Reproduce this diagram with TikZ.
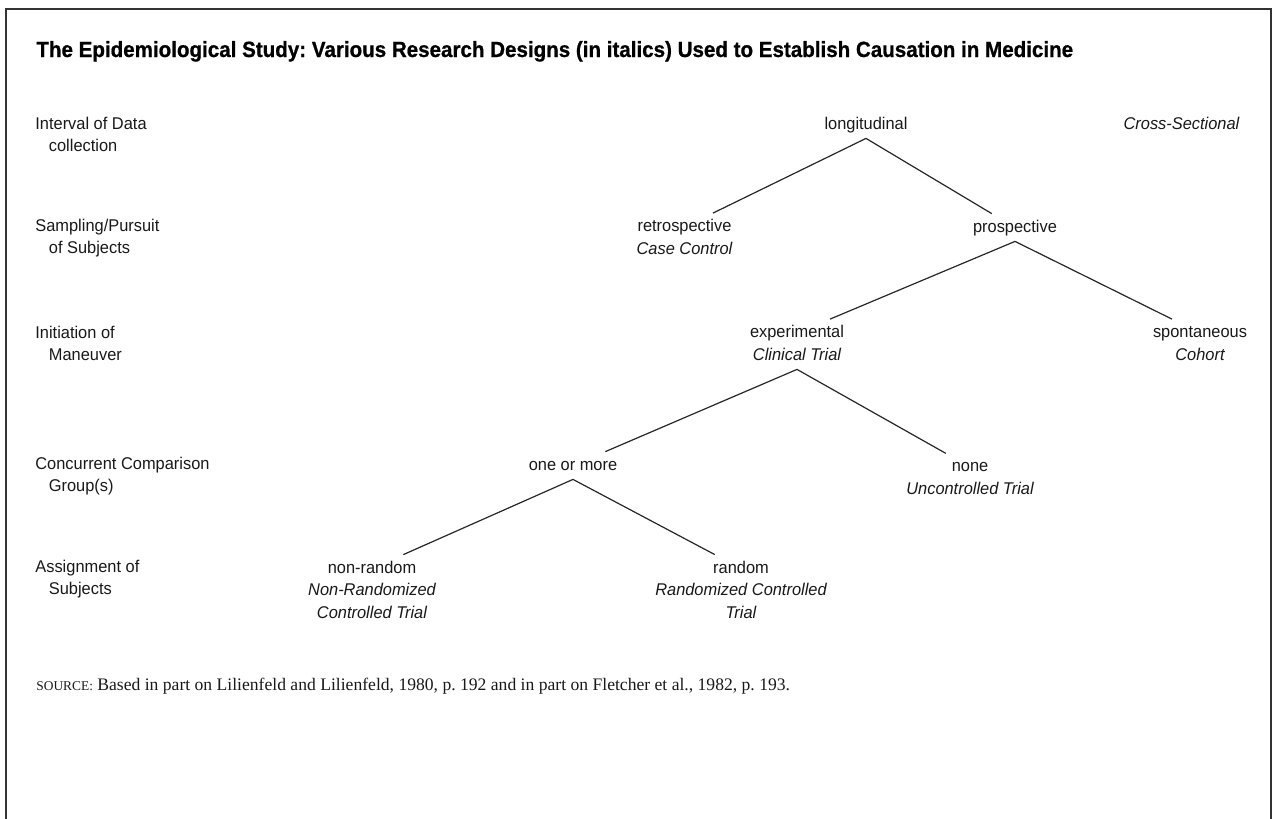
\documentclass[tikz,border=0pt]{standalone}
\usepackage{fontspec}
\setmainfont{Liberation Serif}
\newfontfamily\labelfont[FakeStretch=0.965]{Liberation Sans}
\newfontfamily\titlefont[FakeStretch=0.935, BoldFeatures={FakeBold=0.8}]{Liberation Sans}
\frenchspacing

\tikzstyle{levelNode} = [font=\labelfont\fontsize{8.5}{11.25}\selectfont, text=black!90, text height=6.25pt, text depth=1.75pt, inner sep=2.75pt]
\tikzstyle{designNode} = [levelNode, font=\labelfont\itshape\fontsize{8.5}{11.25}\selectfont, align=center]
\tikzstyle{rowLabel} = [font=\labelfont\fontsize{8.5}{11.25}\selectfont, text=black!90, anchor=base west, align=left, inner sep=0pt]
\tikzstyle{titleText} = [font=\titlefont\bfseries\fontsize{11}{13}\selectfont, anchor=base west, inner sep=0pt]
\tikzstyle{sourceText} = [font=\fontsize{8.8}{10}\selectfont, text=black!90, anchor=base west, inner sep=0pt]
\tikzstyle{branch} = [line width=0.6pt, black!85]
\tikzstyle{frameLine} = [line width=1.2pt, black!80]

\begin{document}
\begin{tikzpicture}[x=0.5pt, y=-0.5pt, node distance=11.25pt]
  \useasboundingbox (0,0) rectangle (1276,819);
  \draw [frameLine] (6,819) -- (6,9) -- (1271,9) -- (1271,819);

  \node (title)[titleText] at (36,57) {The Epidemiological Study: Various Research Designs (in italics) Used to Establish Causation in Medicine};

  % row labels (base = last line)
  \node (interval_row)[rowLabel] at (35,151.5) {Interval of Data\\\hspace*{6.75pt}collection};
  \node (sampling_row)[rowLabel] at (35,253.5) {Sampling/Pursuit\\\hspace*{6.75pt}of Subjects};
  \node (initiation_row)[rowLabel] at (35,360.5) {Initiation of\\\hspace*{6.75pt}Maneuver};
  \node (comparison_row)[rowLabel] at (35,491.5) {Concurrent Comparison\\\hspace*{6.75pt}Group(s)};
  \node (assignment_row)[rowLabel] at (35,594.5) {Assignment of\\\hspace*{6.75pt}Subjects};

  % tree
  \node (longitudinal)[levelNode] at (866,124.5) {longitudinal};
  \node (cross_sectional)[designNode] at (1181.5,124.5) {Cross-Sectional};

  \node (retrospective)[levelNode] at (684.5,227) {retrospective};
  \node (case_control)[designNode, below of=retrospective] {Case Control};
  \node (prospective)[levelNode] at (1015,227.5) {prospective};

  \node (experimental)[levelNode] at (797,333) {experimental};
  \node (clinical_trial)[designNode, below of=experimental] {Clinical Trial};
  \node (spontaneous)[levelNode] at (1200,333) {spontaneous};
  \node (cohort)[designNode, below of=spontaneous] {Cohort};

  \node (one_or_more)[levelNode] at (573,465.5) {one or more};
  \node (none)[levelNode] at (970,467) {none};
  \node (uncontrolled)[designNode, below of=none] {Uncontrolled Trial};

  \node (non_random)[levelNode] at (372,568.5) {non-random};
  \node (non_randomized)[designNode, below of=non_random, yshift=-11.25pt] {Non-Randomized\\Controlled Trial};
  \node (random)[levelNode] at (741,568.5) {random};
  \node (randomized)[designNode, below of=random, yshift=-11.25pt] {Randomized Controlled\\Trial};

  \draw [branch] (longitudinal.south) -- (retrospective);
  \draw [branch] (longitudinal.south) -- (prospective);
  \draw [branch] (prospective.south) -- (experimental);
  \draw [branch] (prospective.south) -- (spontaneous);
  \draw [branch] (clinical_trial.south) -- (one_or_more);
  \draw [branch] (clinical_trial.south) -- (none);
  \draw [branch] (one_or_more.south) -- (non_random);
  \draw [branch] (one_or_more.south) -- (random);

  \node (source)[sourceText] at (36,690) {{\fontsize{6.7}{8}\selectfont SOURCE:} Based in part on Lilienfeld and Lilienfeld, 1980, p. 192 and in part on Fletcher et al., 1982, p. 193.};
\end{tikzpicture}
\end{document}
